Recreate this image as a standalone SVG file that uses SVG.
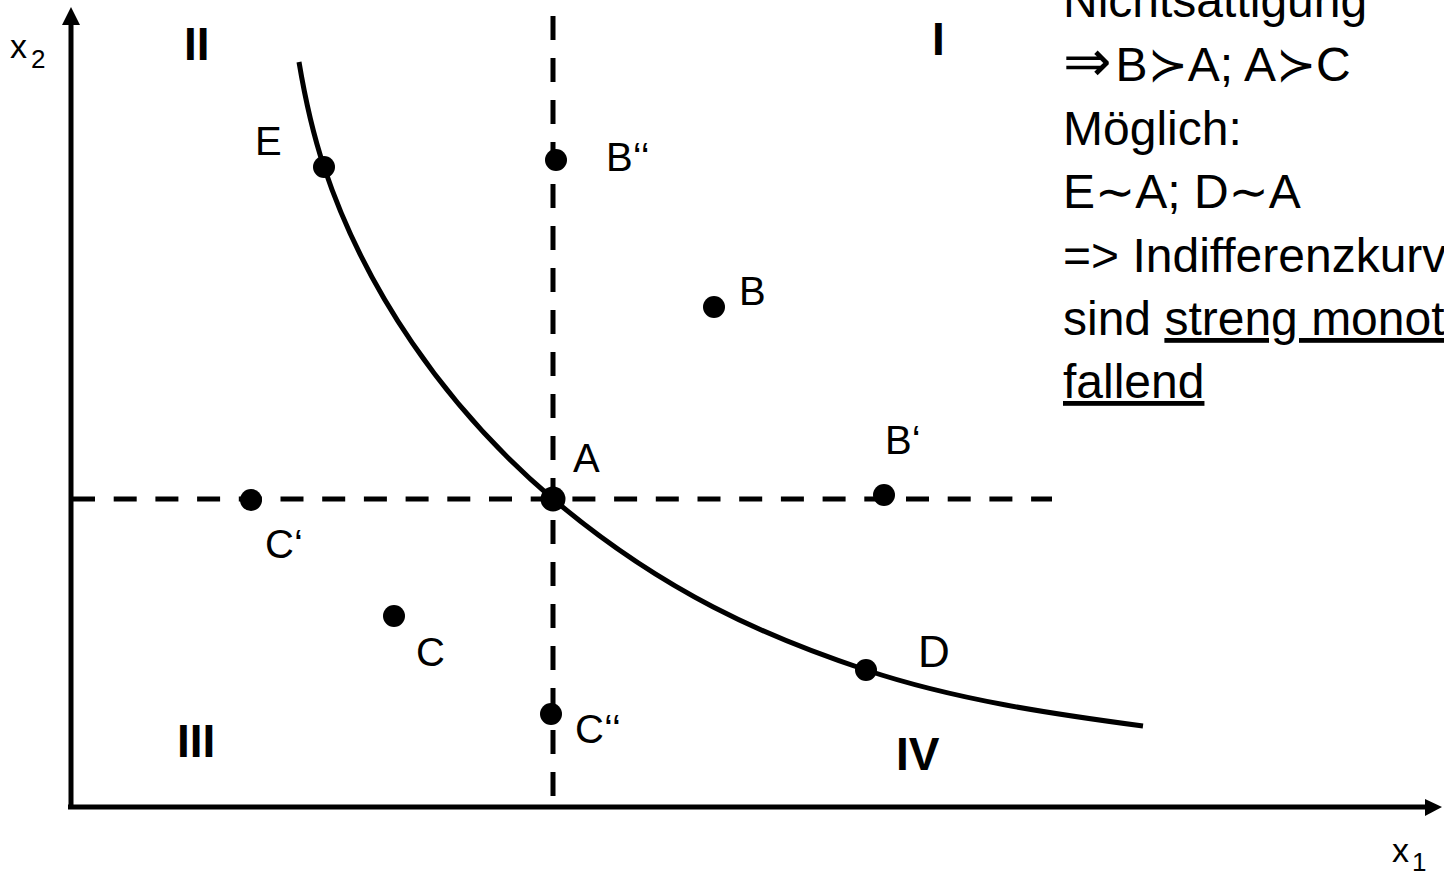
<svg xmlns="http://www.w3.org/2000/svg" width="1444" height="874" viewBox="0 0 1444 874">
<style>
text{font-family:"Liberation Sans","DejaVu Sans",sans-serif;fill:#000}
.lbl{font-size:40px}
.rom{font-size:46px;font-weight:bold}
.note{font-size:48px}
.dot{fill:#000}
.axis{stroke:#000;stroke-width:5;fill:none}
.dash{stroke:#000;stroke-width:5;fill:none}
.curve{stroke:#000;stroke-width:5;fill:none}
</style>
<rect width="1444" height="874" fill="#fff"/>
<g id="connectors">
<line class="axis" x1="71" y1="809" x2="71" y2="22"/>
<polygon points="71,7 62,25 80,25" fill="#000"/>
<line class="axis" x1="68" y1="807" x2="1428" y2="807"/>
<polygon points="1442,807 1425,799 1425,816" fill="#000"/>
<line class="dash" x1="72" y1="499" x2="1052" y2="499" stroke-dasharray="23 18.7"/>
<line class="dash" x1="553" y1="16" x2="553" y2="806" stroke-dasharray="24 18"/>
<path class="curve" d="M299,62 C304,92 312,131 324,167 C364,287 443,405.5 553,499 C663,592 766,637 866,670 C956,700 1053,714 1143,726"/>
</g>
<g id="axis-labels">
<text x="10" y="58" style="font-size:34px">x</text><text x="31" y="68" style="font-size:26px">2</text>
<text x="1392" y="862" style="font-size:34px">x</text><text x="1412" y="871" style="font-size:26px">1</text>
</g>
<g id="quadrants">
<text class="rom" x="184" y="60">II</text>
<text class="rom" x="932" y="55">I</text>
<text class="rom" x="177" y="757">III</text>
<text class="rom" x="896" y="770">IV</text>
</g>
<g id="node-E"><circle class="dot" cx="324" cy="167" r="11"/><text class="lbl" x="255" y="155">E</text></g>
<g id="node-B2"><circle class="dot" cx="556" cy="160" r="11"/><text class="lbl" x="606" y="171">B‘‘</text></g>
<g id="node-B"><circle class="dot" cx="714" cy="307" r="11"/><text class="lbl" x="739" y="305">B</text></g>
<g id="node-A"><circle class="dot" cx="553" cy="499" r="12.5"/><text class="lbl" x="573" y="472">A</text></g>
<g id="node-B1"><circle class="dot" cx="884" cy="495" r="11"/><text class="lbl" x="885" y="454">B‘</text></g>
<g id="node-C1"><circle class="dot" cx="251" cy="500" r="11"/><text class="lbl" x="265" y="558">C‘</text></g>
<g id="node-C"><circle class="dot" cx="394" cy="616" r="11"/><text class="lbl" x="416" y="666">C</text></g>
<g id="node-C2"><circle class="dot" cx="551" cy="714" r="11"/><text class="lbl" x="575" y="743">C‘‘</text></g>
<g id="node-D"><circle class="dot" cx="866" cy="670" r="11"/><text class="lbl" x="918" y="667" style="font-size:44px">D</text></g>
<g id="note">
<text class="note" x="1063" y="17">Nichtsättigung</text>
<text class="note" x="1063" y="81"><tspan style="font-size:58px">⇒</tspan><tspan dx="4">B≻A; A≻C</tspan></text>
<text class="note" x="1063" y="145">Möglich:</text>
<text class="note" x="1063" y="208">E∼A; D∼A</text>
<text class="note" x="1063" y="272">=&gt; Indifferenzkurven</text>
<text class="note" x="1063" y="335">sind <tspan text-decoration="underline">streng monoton</tspan></text>
<text class="note" x="1063" y="398" text-decoration="underline">fallend</text>
</g>
</svg>
